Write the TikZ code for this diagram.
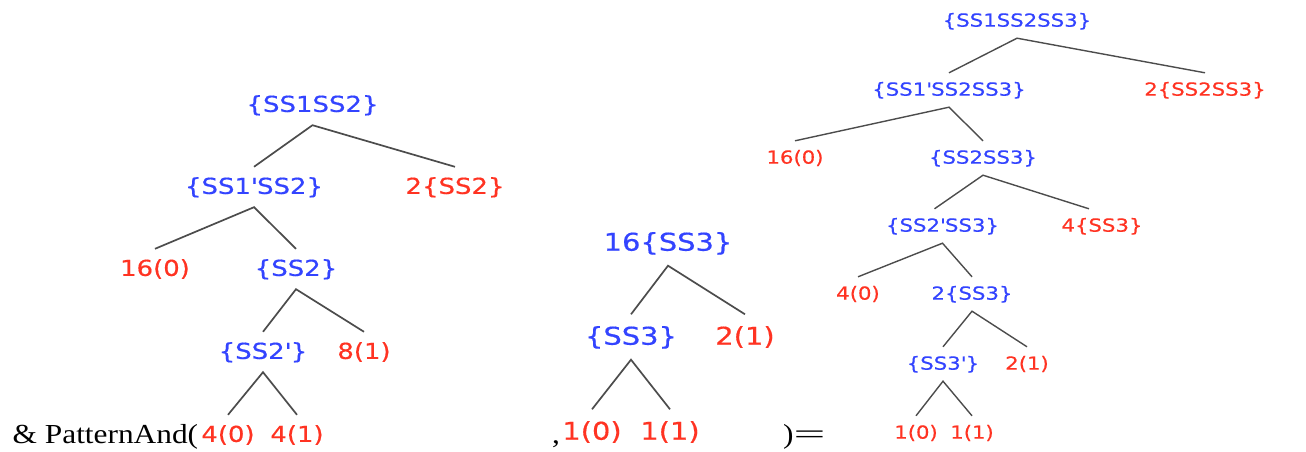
\documentclass[tikz,border=0pt]{standalone}
\usepackage{fontspec}
\setmainfont{Liberation Serif}[FakeStretch=1.14]
\newfontfamily\treefont{DejaVu Sans}[FakeStretch=1.18,FakeBold=0.5]
\definecolor{nblue}{RGB}{51,68,255}
\definecolor{nred}{RGB}{255,51,34}
\newcommand{\q}{\textquotesingle}
\tikzset{
  lt/.style={font=\treefont\fontsize{22}{24}\selectfont, inner sep=0pt, text height=16.7pt, text depth=2.9pt, minimum height=40pt},
  mt/.style={font=\treefont\fontsize{24.5}{27}\selectfont, inner sep=0pt, text height=18.6pt, text depth=3.2pt, minimum height=45pt},
  rt/.style={font=\treefont\fontsize{18}{20}\selectfont, inner sep=0pt, text height=13.7pt, text depth=2.4pt, minimum height=34pt},
  bl/.style={text=nblue},
  rd/.style={text=nred},
  edge/.style={draw=black!70, line width=1.7pt},
  redge/.style={draw=black!70, line width=1.4pt},
  serif/.style={font=\fontsize{27.5}{30}\selectfont, inner sep=0pt, anchor=base west}
}
\begin{document}
\begin{tikzpicture}[x=1pt,y=-1pt]
\useasboundingbox (0,0) rectangle (1306,452);
% left tree
\node[lt,bl] (L1) at (312.5,105) {\{SS1SS2\}};
\node[lt,bl] (L2) at (254,187) {\{SS1\q SS2\}};
\node[lt,rd] (L3) at (455,187) {2\{SS2\}};
\node[lt,rd] (L4) at (155,269) {16(0)};
\node[lt,bl] (L5) at (296,269) {\{SS2\}};
\node[lt,bl] (L6) at (263,352) {\{SS2\q\}};
\node[lt,rd] (L7) at (364,352) {8(1)};
\node[lt,rd] (L8) at (228,435) {4(0)};
\node[lt,rd] (L9) at (297,435) {4(1)};
\path[edge] (L2.north) -- (L1.south) -- (L3.north);
\path[edge] (L4.north) -- (L2.south) -- (L5.north);
\path[edge] (L6.north) -- (L5.south) -- (L7.north);
\path[edge] (L8.north) -- (L6.south) -- (L9.north);
% middle tree
\node[mt,bl] (M1) at (668,243) {16\{SS3\}};
\node[mt,bl] (M2) at (631,337) {\{SS3\}};
\node[mt,rd] (M3) at (745,337) {2(1)};
\node[mt,rd] (M4) at (592,432) {1(0)};
\node[mt,rd] (M5) at (670,432) {1(1)};
\path[edge] (M2.north) -- (M1.south) -- (M3.north);
\path[edge] (M4.north) -- (M2.south) -- (M5.north);
% right tree
\node[rt,bl] (R1) at (1017,21) {\{SS1SS2SS3\}};
\node[rt,bl] (R2) at (949,90) {\{SS1\q SS2SS3\}};
\node[rt,rd] (R3) at (1205,90) {2\{SS2SS3\}};
\node[rt,rd] (R4) at (795,158) {16(0)};
\node[rt,bl] (R5) at (983,158) {\{SS2SS3\}};
\node[rt,bl] (R6) at (942.5,226) {\{SS2\q SS3\}};
\node[rt,rd] (R7) at (1102,226) {4\{SS3\}};
\node[rt,rd] (R8) at (858,294) {4(0)};
\node[rt,bl] (R9) at (972,294) {2\{SS3\}};
\node[rt,bl] (R10) at (943,364) {\{SS3\q\}};
\node[rt,rd] (R11) at (1027,364) {2(1)};
\node[rt,rd] (R12) at (916,433) {1(0)};
\node[rt,rd] (R13) at (972,433) {1(1)};
\path[redge] (R2.north) -- (R1.south) -- (R3.north);
\path[redge] (R4.north) -- (R2.south) -- (R5.north);
\path[redge] ([xshift=-8pt]R6.north) -- (R5.south) -- ([xshift=-13pt]R7.north);
\path[redge] (R8.north) -- (R6.south) -- (R9.north);
\path[redge] (R10.north) -- (R9.south) -- (R11.north);
\path[redge] (R12.north) -- (R10.south) -- (R13.north);
% serif text
\node[serif] (t1) at (12.5,443) {\& PatternAnd(};
\node[serif] (t2) at (552,443) {,};
\node[serif] (t3) at (783,443) {)\scalebox{1.8}[1]{=}};
\end{tikzpicture}
\end{document}
